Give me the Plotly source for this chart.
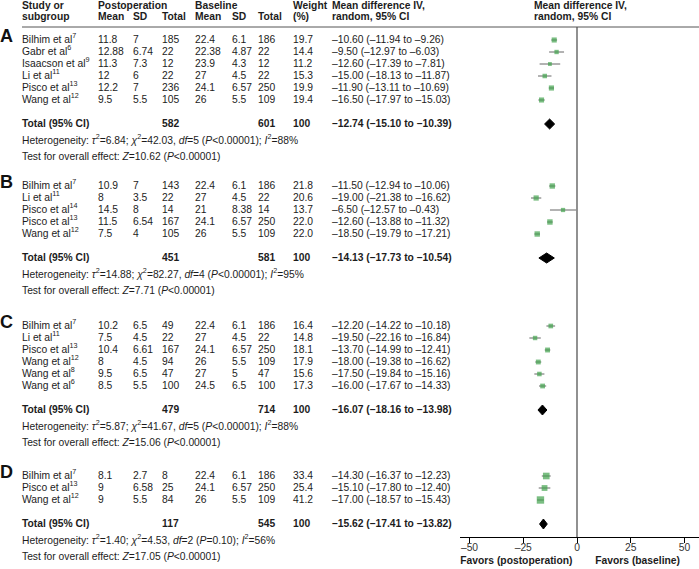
import plotly.graph_objects as go

# ---------------- data ----------------
group_labels = ["A", "B", "C", "D"]

A_study = ["Bilhim et al<sup>7</sup>", "Gabr et al<sup>6</sup>", "Isaacson et al<sup>9</sup>",
           "Li et al<sup>11</sup>", "Pisco et al<sup>13</sup>", "Wang et al<sup>12</sup>"]
A_post_mean = [11.8, 12.88, 11.3, 12, 12.2, 9.5]
A_post_sd = [7, 6.74, 7.3, 6, 7, 5.5]
A_post_n = [185, 22, 12, 22, 236, 105]
A_base_mean = [22.4, 22.38, 23.9, 27, 24.1, 26]
A_base_sd = [6.1, 4.87, 4.3, 4.5, 6.57, 5.5]
A_base_n = [186, 22, 12, 22, 250, 109]
A_weight = [19.7, 14.4, 11.2, 15.3, 19.9, 19.4]
A_md = [-10.60, -9.50, -12.60, -15.00, -11.90, -16.50]
A_lo = [-11.94, -12.97, -17.39, -18.13, -13.11, -17.97]
A_hi = [-9.26, -6.03, -7.81, -11.87, -10.69, -15.03]
A_total_n = [582, 601]
A_total_md = [-12.74, -15.10, -10.39]
A_het = [6.84, 42.03, 5, "&lt;0.00001", 88]
A_z = [10.62, "&lt;0.00001"]

B_study = ["Bilhim et al<sup>7</sup>", "Li et al<sup>11</sup>", "Pisco et al<sup>14</sup>",
           "Pisco et al<sup>13</sup>", "Wang et al<sup>12</sup>"]
B_post_mean = [10.9, 8, 14.5, 11.5, 7.5]
B_post_sd = [7, 3.5, 8, 6.54, 4]
B_post_n = [143, 22, 14, 167, 105]
B_base_mean = [22.4, 27, 21, 24.1, 26]
B_base_sd = [6.1, 4.5, 8.38, 6.57, 5.5]
B_base_n = [186, 22, 14, 250, 109]
B_weight = [21.8, 20.6, 13.7, 22.0, 22.0]
B_md = [-11.50, -19.00, -6.50, -12.60, -18.50]
B_lo = [-12.94, -21.38, -12.57, -13.88, -19.79]
B_hi = [-10.06, -16.62, -0.43, -11.32, -17.21]
B_total_n = [451, 581]
B_total_md = [-14.13, -17.73, -10.54]
B_het = [14.88, 82.27, 4, "&lt;0.00001", 95]
B_z = [7.71, "&lt;0.00001"]

C_study = ["Bilhim et al<sup>7</sup>", "Li et al<sup>11</sup>", "Pisco et al<sup>13</sup>",
           "Wang et al<sup>12</sup>", "Wang et al<sup>8</sup>", "Wang et al<sup>6</sup>"]
C_post_mean = [10.2, 7.5, 10.4, 8, 9.5, 8.5]
C_post_sd = [6.5, 4.5, 6.61, 4.5, 6.5, 5.5]
C_post_n = [49, 22, 167, 94, 47, 100]
C_base_mean = [22.4, 27, 24.1, 26, 27, 24.5]
C_base_sd = [6.1, 4.5, 6.57, 5.5, 5, 6.5]
C_base_n = [186, 22, 250, 109, 47, 100]
C_weight = [16.4, 14.8, 18.1, 17.9, 15.6, 17.3]
C_md = [-12.20, -19.50, -13.70, -18.00, -17.50, -16.00]
C_lo = [-14.22, -22.16, -14.99, -19.38, -19.84, -17.67]
C_hi = [-10.18, -16.84, -12.41, -16.62, -15.16, -14.33]
C_total_n = [479, 714]
C_total_md = [-16.07, -18.16, -13.98]
C_het = [5.87, 41.67, 5, "&lt;0.00001", 88]
C_z = [15.06, "&lt;0.00001"]

D_study = ["Bilhim et al<sup>7</sup>", "Pisco et al<sup>13</sup>", "Wang et al<sup>12</sup>"]
D_post_mean = [8.1, 9, 9]
D_post_sd = [2.7, 6.58, 5.5]
D_post_n = [8, 25, 84]
D_base_mean = [22.4, 24.1, 26]
D_base_sd = [6.1, 6.57, 5.5]
D_base_n = [186, 250, 109]
D_weight = [33.4, 25.4, 41.2]
D_md = [-14.30, -15.10, -17.00]
D_lo = [-16.37, -17.80, -18.57]
D_hi = [-12.23, -12.40, -15.43]
D_total_n = [117, 545]
D_total_md = [-15.62, -17.41, -13.82]
D_het = [1.40, 4.53, 2, "=0.10", 56]
D_z = [17.05, "&lt;0.00001"]

tick_vals = [-50, -25, 0, 25, 50]
tick_text = ["–50", "–25", "0", "25", "50"]
favors_left = "Favors (postoperation)"
favors_right = "Favors (baseline)"

# ---------------- layout constants (pixels) ----------------
W, H = 699, 569
COL = dict(study=22, pm=98, psd=133, pn=162, bm=195, bsd=232, bn=258, w=293, md=332, plot=534)
GROUP_TOP = [40, 186, 326, 476]
ROW = 12
AXIS_Y = 537
RULE_Y = 27
PX_PER_UNIT = 2.15
ZERO_PX = 577
x_range = [(460 - ZERO_PX) / PX_PER_UNIT, (W - ZERO_PX) / PX_PER_UNIT]

FONT = "Liberation Sans, Arial, sans-serif"
FS = 10.3
TXT = "#1c1c1c"
GREEN = "#41a24d"


def num(v):
    return f"{v:g}".replace("-", "–")


def md_txt(m, lo, hi):
    return f"{m:.2f} ({lo:.2f} to {hi:.2f})".replace("-", "–")


groups = [
    (A_study, A_post_mean, A_post_sd, A_post_n, A_base_mean, A_base_sd, A_base_n, A_weight, A_md, A_lo, A_hi, A_total_n, A_total_md, A_het, A_z),
    (B_study, B_post_mean, B_post_sd, B_post_n, B_base_mean, B_base_sd, B_base_n, B_weight, B_md, B_lo, B_hi, B_total_n, B_total_md, B_het, B_z),
    (C_study, C_post_mean, C_post_sd, C_post_n, C_base_mean, C_base_sd, C_base_n, C_weight, C_md, C_lo, C_hi, C_total_n, C_total_md, C_het, C_z),
    (D_study, D_post_mean, D_post_sd, D_post_n, D_base_mean, D_base_sd, D_base_n, D_weight, D_md, D_lo, D_hi, D_total_n, D_total_md, D_het, D_z),
]

norm = dict(x=[], y=[], t=[])
bold = dict(x=[], y=[], t=[])
letters = dict(x=[], y=[], t=[])


def add(store, x, y, t):
    store["x"].append(x)
    store["y"].append(y)
    store["t"].append(t)


# header
hdr1 = [("study", "Study or"), ("pm", "Postoperation"), ("bm", "Baseline"), ("w", "Weight"),
        ("md", "Mean difference IV,"), ("plot", "Mean difference IV,")]
hdr2 = [("study", "subgroup"), ("pm", "Mean"), ("psd", "SD"), ("pn", "Total"), ("bm", "Mean"),
        ("bsd", "SD"), ("bn", "Total"), ("w", "(%)"), ("md", "random, 95% CI"), ("plot", "random, 95% CI")]
for k, t in hdr1:
    add(bold, COL[k], 6, t)
for k, t in hdr2:
    add(bold, COL[k], 17, t)

fig = go.Figure()

ci_x, ci_y = [], []
mk_x, mk_y, mk_s = [], [], []
diamonds = []

for gi, g in enumerate(groups):
    (study, pm, psd, pn, bm, bsd, bn, wt, md, lo, hi, tn, tmd, het, z) = g
    y0 = GROUP_TOP[gi]
    add(letters, 0, y0 - 3, f"<b>{group_labels[gi]}</b>")
    for i in range(len(study)):
        y = y0 + i * ROW
        add(norm, COL["study"], y, study[i])
        add(norm, COL["pm"], y, num(pm[i]))
        add(norm, COL["psd"], y, num(psd[i]))
        add(norm, COL["pn"], y, num(pn[i]))
        add(norm, COL["bm"], y, num(bm[i]))
        add(norm, COL["bsd"], y, num(bsd[i]))
        add(norm, COL["bn"], y, num(bn[i]))
        add(norm, COL["w"], y, f"{wt[i]:.1f}")
        add(norm, COL["md"], y, md_txt(md[i], lo[i], hi[i]))
        ci_x += [lo[i], hi[i], None]
        ci_y += [y, y, None]
        mk_x.append(md[i])
        mk_y.append(y)
        mk_s.append(1.15 * wt[i] ** 0.5)
    yt = y0 + (len(study) - 1) * ROW + 24
    add(bold, COL["study"], yt, "Total (95% CI)")
    add(bold, COL["pn"], yt, str(tn[0]))
    add(bold, COL["bn"], yt, str(tn[1]))
    add(bold, COL["w"], yt, "100")
    add(bold, COL["md"], yt, md_txt(*tmd))
    tau2, chi2, df, p, i2 = het
    add(norm, COL["study"], yt + 17,
        f"Heterogeneity: <i>τ</i><sup>2</sup>={tau2:.2f}; <i>χ</i><sup>2</sup>={chi2:.2f}, "
        f"<i>df</i>={df} (<i>P</i>{p}); <i>I</i><sup>2</sup>={i2}%")
    add(norm, COL["study"], yt + 33,
        f"Test for overall effect: <i>Z</i>={z[0]:.2f} (<i>P</i>{z[1]})")
    diamonds.append((tmd, yt))

# text traces
fig.add_trace(go.Scatter(x=norm["x"], y=norm["y"], text=norm["t"], mode="text",
                         textposition="middle right", xaxis="x2", yaxis="y",
                         textfont=dict(family=FONT, size=FS, color=TXT),
                         hoverinfo="skip", showlegend=False))
fig.add_trace(go.Scatter(x=bold["x"], y=bold["y"], text=[f"<b>{t}</b>" for t in bold["t"]],
                         mode="text", textposition="middle right", xaxis="x2", yaxis="y",
                         textfont=dict(family=FONT, size=FS, color=TXT),
                         hoverinfo="skip", showlegend=False))
fig.add_trace(go.Scatter(x=letters["x"], y=letters["y"], text=letters["t"], mode="text",
                         textposition="middle right", xaxis="x2", yaxis="y",
                         textfont=dict(family=FONT, size=18, color="#111"),
                         hoverinfo="skip", showlegend=False))
# favors labels
fig.add_trace(go.Scatter(x=[-28.2, 28.2], y=[561, 561],
                         text=[f"<b>{favors_left}</b>", f"<b>{favors_right}</b>"],
                         mode="text", textposition="middle center", xaxis="x", yaxis="y",
                         textfont=dict(family=FONT, size=FS, color=TXT), cliponaxis=False,
                         hoverinfo="skip", showlegend=False))

# zero line
fig.add_trace(go.Scatter(x=[0, 0], y=[RULE_Y, AXIS_Y], mode="lines", xaxis="x", yaxis="y",
                         line=dict(color="#555", width=1.3), hoverinfo="skip", showlegend=False))
# CI lines
fig.add_trace(go.Scatter(x=ci_x, y=ci_y, mode="lines", xaxis="x", yaxis="y",
                         line=dict(color="#666", width=1), hoverinfo="skip", showlegend=False))
# study markers
fig.add_trace(go.Scatter(x=mk_x, y=mk_y, mode="markers", xaxis="x", yaxis="y",
                         marker=dict(symbol="square", size=mk_s, color=GREEN, line=dict(width=0)),
                         hoverinfo="skip", showlegend=False))
# diamonds
for (m, lo, hi), yt in diamonds:
    fig.add_trace(go.Scatter(x=[lo, m, hi, m, lo], y=[yt, yt - 5, yt, yt + 5, yt],
                             mode="lines", fill="toself", fillcolor="black",
                             line=dict(color="black", width=1), xaxis="x", yaxis="y",
                             hoverinfo="skip", showlegend=False))

fig.update_layout(
    width=W, height=H, margin=dict(l=0, r=0, t=0, b=0, autoexpand=False),
    paper_bgcolor="white", plot_bgcolor="rgba(0,0,0,0)",
    xaxis=dict(domain=[460 / W, 1], range=x_range, anchor="free", position=(H - AXIS_Y) / H,
               showline=True, linecolor="black", linewidth=1, ticks="outside", ticklen=5,
               tickcolor="black", tickvals=tick_vals, ticktext=tick_text, showgrid=False,
               zeroline=False, ticklabelstandoff=-4,
               tickfont=dict(family=FONT, size=FS, color="#333"), fixedrange=True),
    xaxis2=dict(domain=[0, 1], range=[0, W], visible=False, anchor="y", fixedrange=True),
    yaxis=dict(domain=[0, 1], range=[H, 0], visible=False, fixedrange=True),
    shapes=[dict(type="line", xref="x2", yref="y", x0=COL["study"], x1=W, y0=RULE_Y, y1=RULE_Y,
                 line=dict(color="#555", width=1))],
    showlegend=False,
)

fig.write_html("out.html", config={"displayModeBar": False},
               post_script="document.body.style.margin='0';document.body.style.overflow='hidden';")
